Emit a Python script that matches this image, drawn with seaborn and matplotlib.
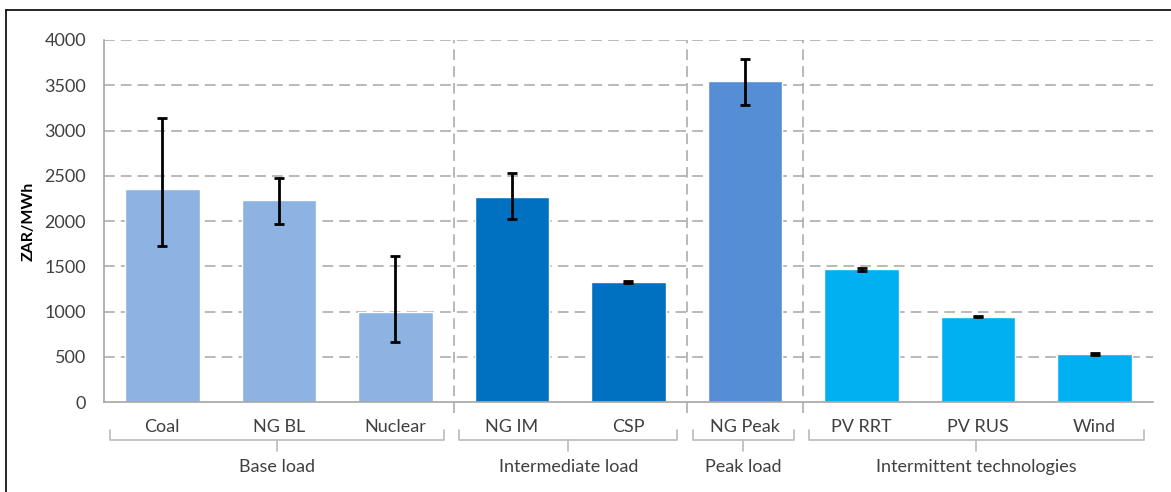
import matplotlib
matplotlib.use('Agg')
import matplotlib.pyplot as plt
from matplotlib.lines import Line2D
import seaborn as sns
import pandas as pd
import numpy as np

# data (ZAR/MWh)
techs = ['Coal', 'NG BL', 'Nuclear', 'NG IM', 'CSP', 'NG Peak', 'PV RRT', 'PV RUS', 'Wind']
groups = ['Base load', 'Base load', 'Base load',
          'Intermediate load', 'Intermediate load',
          'Peak load',
          'Intermittent technologies', 'Intermittent technologies', 'Intermittent technologies']
values = [2350, 2232, 991, 2268, 1323, 3550, 1466, 943, 530]
err_low = [1724, 1967, 660, 2018, 1310, 3282, 1453, 935, 523]
err_high = [3135, 2478, 1613, 2534, 1336, 3793, 1479, 951, 537]

group_names = ['Base load', 'Intermediate load', 'Peak load', 'Intermittent technologies']
group_colors = ['#8DB3E2', '#0070C0', '#558ED5', '#00B0F0']
y_ticks = [0, 500, 1000, 1500, 2000, 2500, 3000, 3500, 4000]

df = pd.DataFrame({'tech': techs, 'group': groups, 'value': values})

sns.set_style('white')
plt.rcParams['font.family'] = ['Lato', 'DejaVu Sans']

fig = plt.figure(figsize=(11.71, 4.92), dpi=100)
ax = fig.add_axes([0.0888, 0.1829, 0.8958, 0.7358])

grid_col = '#A6A6A6'
text_col = '#404040'

# gridlines first so bars sit on top
for yv in y_ticks[1:]:
    ax.axhline(yv, color=grid_col, lw=1.1, ls=(0, (7, 4)), zorder=0)

sns.barplot(data=df, x='tech', y='value', hue='group', order=techs,
            palette=dict(zip(group_names, group_colors)), dodge=False,
            saturation=1, width=0.64, legend=False, ax=ax, zorder=2)

vals = np.array(values)
yerr = [vals - np.array(err_low), np.array(err_high) - vals]
ax.errorbar(np.arange(len(techs)), vals, yerr=yerr, fmt='none', ecolor='black',
            elinewidth=2, capsize=3.5, capthick=2, zorder=3)

ax.set_xlim(-0.5, len(techs) - 0.5)
ax.set_ylim(0, 4000)
ax.set_yticks(y_ticks)
ax.set_xlabel('')
ax.set_ylabel('ZAR/MWh', fontsize=11.5, fontweight='bold', color='black', labelpad=6)
ax.tick_params(axis='both', length=0, labelsize=13, colors=text_col)
ax.tick_params(axis='x', pad=12)
ax.tick_params(axis='y', pad=13)

for s in ['top', 'right']:
    ax.spines[s].set_visible(False)
for s in ['left', 'bottom']:
    ax.spines[s].set_color(grid_col)
    ax.spines[s].set_linewidth(1.2)

# group separators, brackets and group labels
trans = ax.get_xaxis_transform()
start = 0
for gi, g in enumerate(group_names):
    n = groups.count(g)
    first, last = start, start + n - 1
    if gi > 0:
        ax.plot([first - 0.5, first - 0.5], [-0.03, 1.0], transform=trans, color=grid_col,
                lw=1.1, ls=(0, (7, 4)), clip_on=False, zorder=1)
    x0, x1 = first - 0.45, last + 0.42
    xm = (x0 + x1) / 2
    ax.add_line(Line2D([x0, x0, x1, x1], [-0.077, -0.105, -0.105, -0.077], transform=trans,
                       color='#BFBFBF', lw=1.3, clip_on=False))
    ax.add_line(Line2D([xm, xm], [-0.105, -0.135], transform=trans,
                       color='#BFBFBF', lw=1.3, clip_on=False))
    ax.text(xm, -0.18, g, transform=trans, ha='center', va='center',
            fontsize=13, color=text_col)
    start += n

# outer frame (left and top edges visible)
fig.add_artist(Line2D([6 / 1171, 6 / 1171], [0, 1 - 10 / 492], transform=fig.transFigure,
                      color='black', lw=1.2))
fig.add_artist(Line2D([6 / 1171, 1], [1 - 10 / 492, 1 - 10 / 492], transform=fig.transFigure,
                      color='black', lw=1.2))

plt.savefig('out.png', dpi=100)
